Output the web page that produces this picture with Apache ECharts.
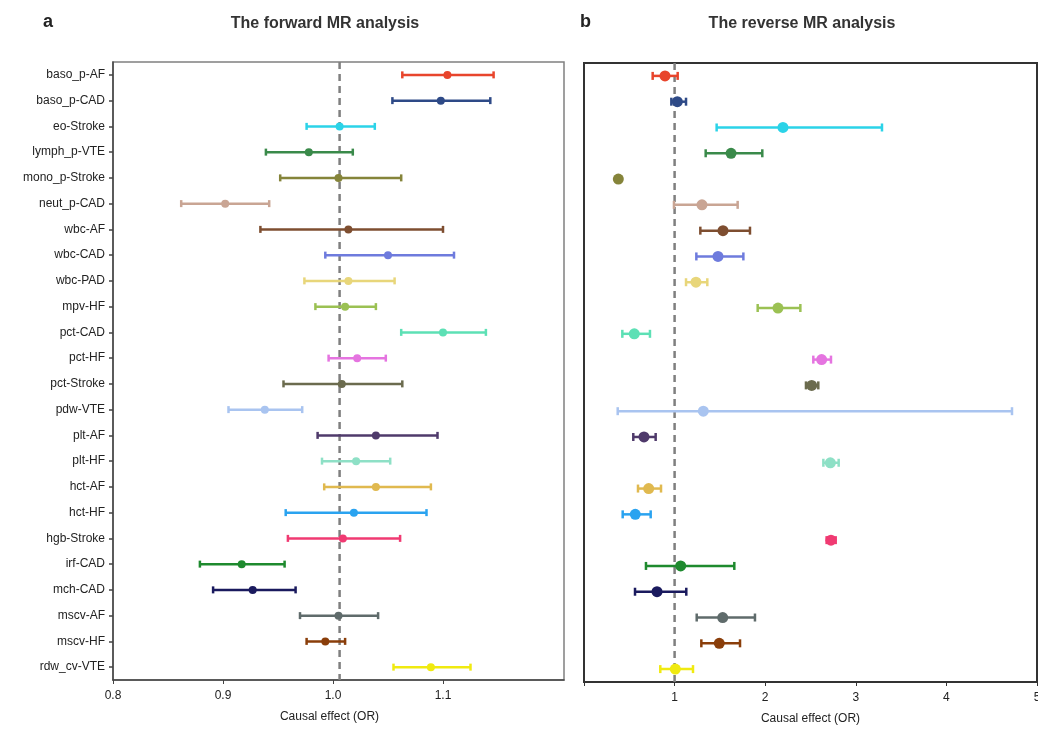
<!DOCTYPE html>
<html><head><meta charset="utf-8">
<script src="https://cdn.jsdelivr.net/npm/echarts@6/dist/echarts.min.js"></script>
<style>html,body{margin:0;padding:0;background:#fff}#c{width:1038px;height:733px}</style>
</head><body><div id="c"></div>
<script>
const categories = ['baso_p-AF','baso_p-CAD','eo-Stroke','lymph_p-VTE','mono_p-Stroke','neut_p-CAD','wbc-AF','wbc-CAD','wbc-PAD','mpv-HF','pct-CAD','pct-HF','pct-Stroke','pdw-VTE','plt-AF','plt-HF','hct-AF','hct-HF','hgb-Stroke','irf-CAD','mch-CAD','mscv-AF','mscv-HF','rdw_cv-VTE'];
const colors = ['#E8452C','#2E4A87','#2BD3E8','#3A8A4A','#85843A','#C9A594','#7E4E30','#6E7BDD','#E8D67A','#9BC153','#5DE0B5','#E574E0','#6B6B4E','#A9C4F0','#4F3A6B','#8EE0C6','#E0B94F','#2AA3F0','#F03A72','#1E8A2E','#1A1A5E','#5F6B6B','#8A3E0A','#F0EA10'];

// forward MR (panel a)
const fwdLower = [1.063,1.054,0.976,0.939,0.952,0.862,0.934,0.993,0.974,0.984,1.062,0.996,0.955,0.905,0.986,0.990,0.992,0.957,0.959,0.879,0.891,0.970,0.976,1.055];
const fwdEst   = [1.104,1.098,1.006,0.978,1.005,0.902,1.014,1.050,1.014,1.011,1.100,1.022,1.008,0.938,1.039,1.021,1.039,1.019,1.009,0.917,0.927,1.005,0.993,1.089];
const fwdUpper = [1.146,1.143,1.038,1.018,1.062,0.942,1.100,1.110,1.056,1.039,1.139,1.048,1.063,0.972,1.095,1.052,1.089,1.085,1.061,0.956,0.966,1.041,1.011,1.125];
const fwdRef = 1.006;
const fwdTicks = [0.8, 0.9, 1.0, 1.1];

// reverse MR (panel b)
const revLower = [0.758,0.964,1.464,1.343,0.379,0.993,1.284,1.240,1.126,1.917,0.423,2.531,2.450,0.372,0.544,2.642,0.596,0.427,2.678,0.684,0.563,1.244,1.295,0.842];
const revEst   = [0.894,1.030,2.196,1.623,0.379,1.302,1.534,1.479,1.236,2.141,0.555,2.623,2.513,1.317,0.662,2.719,0.714,0.566,2.726,1.067,0.806,1.531,1.493,1.008];
const revUpper = [1.034,1.126,3.289,1.968,0.379,1.696,1.832,1.759,1.361,2.388,0.728,2.726,2.586,4.724,0.791,2.811,0.850,0.736,2.778,1.659,1.129,1.887,1.722,1.203];
const revRef = 1;

const FONT = '"Liberation Sans", Arial, sans-serif';

function errSeries(lo, hi, idx, capH, lw) {
  return {
    type: 'custom', xAxisIndex: idx, yAxisIndex: idx, z: 3,
    data: categories.map((c, i) => [lo[i], hi[i], i]),
    encode: { x: [0, 1], y: 2 },
    renderItem: (params, api) => {
      const y = api.value(2);
      const a = api.coord([api.value(0), y]);
      const b = api.coord([api.value(1), y]);
      const col = colors[params.dataIndex];
      const st = { stroke: col, lineWidth: lw };
      return { type: 'group', children: [
        { type: 'line', shape: { x1: a[0], y1: a[1], x2: b[0], y2: b[1] }, style: st },
        { type: 'line', shape: { x1: a[0], y1: a[1] - capH, x2: a[0], y2: a[1] + capH }, style: st },
        { type: 'line', shape: { x1: b[0], y1: b[1] - capH, x2: b[0], y2: b[1] + capH }, style: st }
      ]};
    }
  };
}
function ptSeries(est, idx, size) {
  return {
    type: 'scatter', xAxisIndex: idx, yAxisIndex: idx, z: 4, symbolSize: size,
    data: categories.map((c, i) => [est[i], c]),
    itemStyle: { color: p => colors[p.dataIndex], opacity: 1 }
  };
}
function refSeries(v, idx) {
  return {
    type: 'custom', xAxisIndex: idx, yAxisIndex: idx, z: 1, silent: true,
    data: [[v, 0]], encode: { x: 0, y: 1 },
    renderItem: (params, api) => {
      const p = api.coord([api.value(0), 0]);
      const cs = params.coordSys;
      return { type: 'line', shape: { x1: p[0], y1: cs.y, x2: p[0], y2: cs.y + cs.height },
        style: { stroke: '#7f7f7f', lineWidth: 2.5, lineDash: [7, 5] } };
    }
  };
}

const chart = echarts.init(document.getElementById('c'));
chart.setOption({
  animation: false,
  textStyle: { fontFamily: FONT },
  title: [
    { text: 'a', left: 38, top: 8, textStyle: { fontSize: 18, fontWeight: 'bold', color: '#222', fontFamily: FONT } },
    { text: 'The forward MR analysis', left: 320, top: 11, textAlign: 'center', textStyle: { fontSize: 16, fontWeight: 'bold', color: '#333', fontFamily: FONT } },
    { text: 'b', left: 575, top: 8, textStyle: { fontSize: 18, fontWeight: 'bold', color: '#222', fontFamily: FONT } },
    { text: 'The reverse MR analysis', left: 797, top: 11, textAlign: 'center', textStyle: { fontSize: 16, fontWeight: 'bold', color: '#333', fontFamily: FONT } }
  ],
  grid: [
    { left: 113, top: 62, width: 451, height: 618, show: true, borderColor: '#808080', borderWidth: 1.5, outerBoundsMode: 'none', containLabel: false },
    { left: 584, top: 63, width: 453, height: 619, show: true, borderColor: '#333', borderWidth: 2, outerBoundsMode: 'none', containLabel: false }
  ],
  xAxis: [
    { type: 'value', gridIndex: 0, min: 0.8, max: 1.21, splitLine: { show: false },
      axisLine: { show: true, lineStyle: { color: '#444', width: 1.5 } },
      axisTick: { show: true, length: 4, customValues: fwdTicks, lineStyle: { color: '#444' } },
      axisLabel: { customValues: fwdTicks, formatter: v => v.toFixed(1), color: '#222', fontSize: 12, margin: 10 },
      name: 'Causal effect (OR)', nameLocation: 'middle', nameGap: 31,
      nameTextStyle: { color: '#222', fontSize: 12, padding: [0, 18, 0, 0] } },
    { type: 'value', gridIndex: 1, min: 0, max: 5, interval: 1, splitLine: { show: false },
      axisLine: { show: true, lineStyle: { color: '#333', width: 2 } },
      axisTick: { show: true, length: 4, lineStyle: { color: '#333' } },
      axisLabel: { formatter: v => (v === 0 ? '' : String(v)), color: '#222', fontSize: 12, margin: 10, showMaxLabel: true },
      name: 'Causal effect (OR)', nameLocation: 'middle', nameGap: 31,
      nameTextStyle: { color: '#222', fontSize: 12 } }
  ],
  yAxis: [
    { type: 'category', gridIndex: 0, data: categories, inverse: true,
      axisLine: { show: true, lineStyle: { color: '#444', width: 1.5 } },
      axisTick: { show: true, alignWithLabel: true, length: 4, lineStyle: { color: '#444', width: 1.5 } },
      axisLabel: { color: '#222', fontSize: 12, margin: 8 } },
    { type: 'category', gridIndex: 1, data: categories, inverse: true,
      axisLine: { show: true, lineStyle: { color: '#333', width: 2 } },
      axisTick: { show: false }, axisLabel: { show: false } }
  ],
  series: [
    refSeries(fwdRef, 0),
    errSeries(fwdLower, fwdUpper, 0, 3.5, 2.5),
    ptSeries(fwdEst, 0, 8),
    refSeries(revRef, 1),
    errSeries(revLower, revUpper, 1, 4, 2.5),
    ptSeries(revEst, 1, 11)
  ]
});
</script></body></html>
